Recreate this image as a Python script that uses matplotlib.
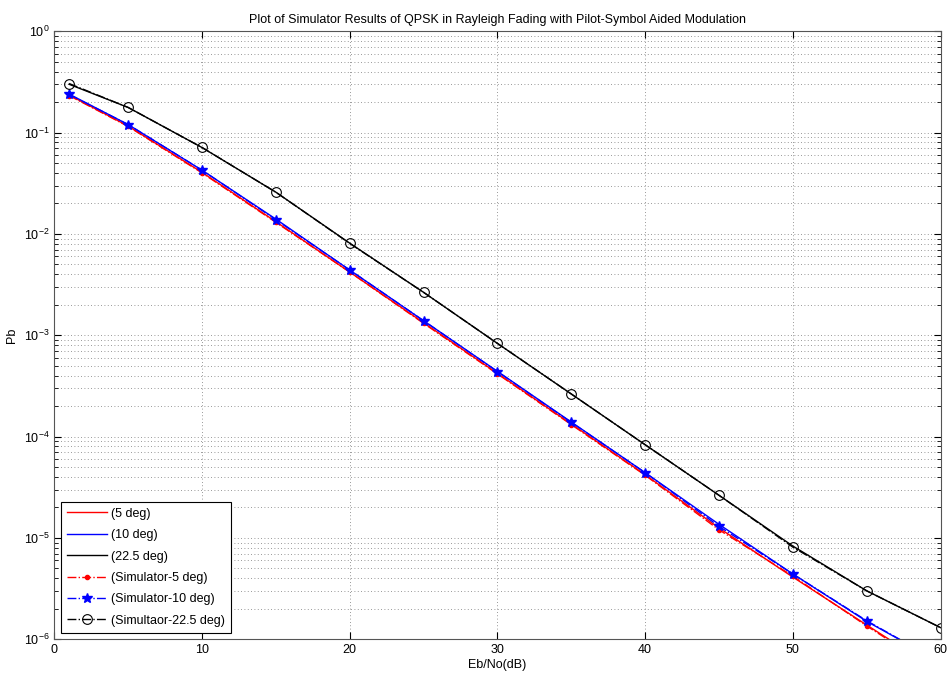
import numpy as np
import matplotlib.pyplot as plt

plt.rcParams['font.family'] = ['Liberation Sans', 'DejaVu Sans']
plt.rcParams['mathtext.fontset'] = 'custom'
plt.rcParams['mathtext.rm'] = 'Liberation Sans'

# Eb/No points (dB)
snr = [1, 5, 10, 15, 20, 25, 30, 35, 40, 45, 50, 55, 60]

# theoretical curves
theory_5 = [0.235, 0.116, 0.0405, 0.0132, 0.0042, 0.00133, 4.2e-4, 1.33e-4, 4.2e-5, 1.25e-5, 4.1e-6, 1.38e-6, 4.7e-7]
theory_10 = [0.24, 0.12, 0.0425, 0.0140, 0.0044, 0.00139, 4.4e-4, 1.39e-4, 4.4e-5, 1.36e-5, 4.4e-6, 1.5e-6, 5.9e-7]
theory_22 = [0.30, 0.177, 0.0712, 0.0258, 0.0081, 0.00265, 8.3e-4, 2.63e-4, 8.3e-5, 2.63e-5, 8.3e-6, 3.0e-6, 1.3e-6]

# simulator results
sim_5 = [0.232, 0.115, 0.0400, 0.0130, 0.0042, 0.00131, 4.15e-4, 1.31e-4, 4.15e-5, 1.2e-5, 4.2e-6, 1.35e-6, 4.6e-7]
sim_10 = [0.238, 0.12, 0.0426, 0.0138, 0.0044, 0.00139, 4.37e-4, 1.38e-4, 4.4e-5, 1.3e-5, 4.4e-6, 1.52e-6, 5.9e-7]
sim_22 = [0.305, 0.177, 0.0713, 0.0258, 0.00805, 0.00265, 8.3e-4, 2.63e-4, 8.3e-5, 2.63e-5, 8.1e-6, 3.0e-6, 1.3e-6]

fig = plt.figure(figsize=(9.53, 6.8), dpi=100)
ax = fig.add_axes([0.057, 0.060, 0.930, 0.894])

ax.semilogy(snr, theory_5, 'r-', lw=1, label='(5 deg)')
ax.semilogy(snr, theory_10, 'b-', lw=1, label='(10 deg)')
ax.semilogy(snr, theory_22, 'k-', lw=1, label='(22.5 deg)')
ax.semilogy(snr, sim_5, 'r-.', marker='.', ms=6, lw=1, label='(Simulator-5 deg)')
ax.semilogy(snr, sim_10, 'b-.', marker='*', ms=7, lw=1, label='(Simulator-10 deg)')
ax.semilogy(snr, sim_22, 'k-.', marker='o', ms=7, mfc='none', mew=0.8, lw=1,
            label='(Simultaor-22.5 deg)')

ax.set_xlim(0, 60)
ax.set_ylim(1e-6, 1)
ax.set_xticks(range(0, 61, 10))
ax.tick_params(which='both', direction='in', top=True, right=True, labelsize=9)
ax.tick_params(which='major', length=5)
ax.tick_params(which='minor', length=3)
grid_style = dict(ls=(0, (1, 3)), color='#777777', lw=0.6)
ax.grid(True, which='major', **grid_style)
ax.grid(True, which='minor', axis='y', **grid_style)
for s in ax.spines.values():
    s.set_color('#555555')

ax.set_title('Plot of Simulator Results of QPSK in Rayleigh Fading with Pilot-Symbol Aided Modulation',
             fontsize=9, pad=6)
ax.set_xlabel('Eb/No(dB)', fontsize=9, labelpad=2)
ax.set_ylabel('Pb', fontsize=9)

leg = ax.legend(loc='lower left', fontsize=9, fancybox=False, framealpha=1,
                edgecolor='k', borderaxespad=0.5, handlelength=3.2, labelspacing=0.75,
                borderpad=0.5, handletextpad=0.3)
leg.get_frame().set_linewidth(0.8)

fig.savefig('out.png', dpi=100)
